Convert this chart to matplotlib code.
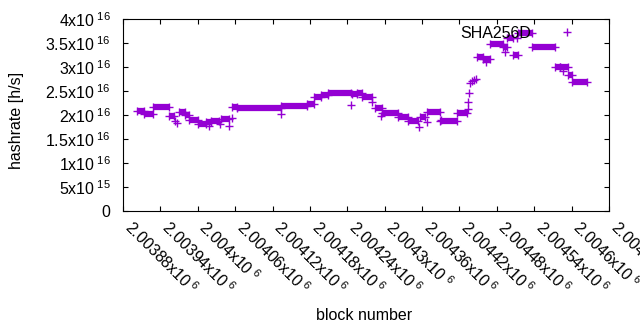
import matplotlib
matplotlib.use("Agg")
import matplotlib.pyplot as plt
import numpy as np

plt.rcParams['font.family'] = ['Liberation Sans', 'DejaVu Sans']
plt.rcParams['mathtext.fontset'] = 'custom'
plt.rcParams['mathtext.rm'] = 'Liberation Sans'
plt.rcParams['mathtext.it'] = 'Liberation Sans'
plt.rcParams['mathtext.bf'] = 'Liberation Sans'

# step segments of the hashrate estimate: first block, last block, value (x1e16 h/s)
seg_start = [2003902, 2003914, 2003928, 2003954, 2003970, 2003979, 2003986, 2004000,
             2004013, 2004021, 2004037, 2004055, 2004063, 2004133, 2004175, 2004186,
             2004198, 2004209, 2004247, 2004255, 2004263, 2004284, 2004295, 2004321,
             2004337, 2004356, 2004368, 2004389, 2004416, 2004448, 2004458, 2004469,
             2004490, 2004496, 2004506, 2004514, 2004536, 2004573, 2004581, 2004594,
             2004600]
seg_end = [2003914, 2003928, 2003954, 2003962, 2003979, 2003986, 2004000, 2004013,
           2004021, 2004034, 2004050, 2004063, 2004133, 2004175, 2004186, 2004198,
           2004209, 2004246, 2004255, 2004263, 2004279, 2004295, 2004321, 2004337,
           2004353, 2004364, 2004389, 2004416, 2004432, 2004458, 2004469, 2004490,
           2004496, 2004506, 2004514, 2004536, 2004573, 2004581, 2004594, 2004600,
           2004624]
seg_value = [2.08, 2.03, 2.16, 1.98, 2.06, 1.99, 1.89, 1.81,
             1.85, 1.88, 1.92, 2.16, 2.14, 2.18, 2.23, 2.37,
             2.42, 2.45, 2.43, 2.46, 2.37, 2.14, 2.04, 1.96,
             1.875, 1.95, 2.06, 1.88, 2.05, 3.21, 3.16, 3.47,
             3.42, 3.60, 3.25, 3.70, 3.41, 2.99, 3.01, 2.83,
             2.69]

# single blocks that stand apart from the steps
pt_block = [2003963, 2003966, 2004018, 2004036, 2004050, 2004055, 2004133, 2004246,
            2004279, 2004294, 2004355, 2004368, 2004390, 2004433, 2004433, 2004435,
            2004437, 2004440, 2004443, 2004446, 2004462, 2004493, 2004512, 2004586]
pt_value = [1.88, 1.84, 1.77, 1.81, 1.77, 1.93, 2.03, 2.20,
            2.28, 1.98, 1.745, 1.85, 1.90, 2.125, 2.27, 2.46,
            2.67, 2.70, 2.73, 2.75, 3.10, 3.32, 3.60, 2.92]

x_ticks = [2003880, 2003940, 2004000, 2004060, 2004120, 2004180, 2004240, 2004300,
           2004360, 2004420, 2004480, 2004540, 2004600, 2004660]
x_labels = [r'2.00388x10$^{\ 6}$', r'2.00394x10$^{\ 6}$', r'2.004x10$^{\ 6}$',
            r'2.00406x10$^{\ 6}$', r'2.00412x10$^{\ 6}$', r'2.00418x10$^{\ 6}$',
            r'2.00424x10$^{\ 6}$', r'2.0043x10$^{\ 6}$', r'2.00436x10$^{\ 6}$',
            r'2.00442x10$^{\ 6}$', r'2.00448x10$^{\ 6}$', r'2.00454x10$^{\ 6}$',
            r'2.0046x10$^{\ 6}$', r'2.00466x10$^{\ 6}$']
y_ticks = [0, 0.5e16, 1e16, 1.5e16, 2e16, 2.5e16, 3e16, 3.5e16, 4e16]
y_labels = ['0', r'5x10$^{\ 15}$', r'1x10$^{\ 16}$', r'1.5x10$^{\ 16}$', r'2x10$^{\ 16}$',
            r'2.5x10$^{\ 16}$', r'3x10$^{\ 16}$', r'3.5x10$^{\ 16}$', r'4x10$^{\ 16}$']

color = '#9400d3'
fs = 11.5

fig = plt.figure(figsize=(6.4, 3.3), dpi=100)
ax = fig.add_axes([123 / 640, 1 - 211 / 330, 486 / 640, 192 / 330])

val = np.array(seg_value) * 1e16
ax.hlines(val, seg_start, seg_end, colors=color, lw=4.5, capstyle='butt')
ax.plot(seg_start, val, '+', color=color, ms=5.5, mew=1)
ax.plot(seg_end, val, '+', color=color, ms=5.5, mew=1)
ax.plot(pt_block, np.array(pt_value) * 1e16, '+', color=color, ms=5.5, mew=1)

ax.plot([], [], '+', color=color, ms=5.5, mew=1, label='SHA256D')
ax.legend(loc='center right', bbox_to_anchor=(0.9457, 0.927), frameon=False,
          markerfirst=False, handlelength=2, handletextpad=1.2, borderpad=0,
          borderaxespad=0, fontsize=fs)

ax.set_xlim(x_ticks[0], x_ticks[-1])
ax.set_ylim(0, 4e16)
ax.set_xticks(x_ticks)
ax.set_xticklabels(x_labels, rotation=-45, ha='left', va='baseline',
                   rotation_mode='anchor', fontsize=fs)
ax.set_yticks(y_ticks)
ax.set_yticklabels(y_labels, fontsize=fs)
ax.tick_params(direction='in', top=True, right=True, length=3.4, width=0.8)
ax.tick_params(axis='x', pad=13)
ax.tick_params(axis='y', pad=9)
for s in ax.spines.values():
    s.set_linewidth(0.8)

fig.text(17 / 640, 1 - 120 / 330, 'hashrate [h/s]', rotation=90, ha='center',
         va='center', fontsize=fs)
fig.text(364 / 640, 1 - 315 / 330, 'block number', ha='center', va='center',
         fontsize=fs)

fig.savefig('out.png', dpi=100)
